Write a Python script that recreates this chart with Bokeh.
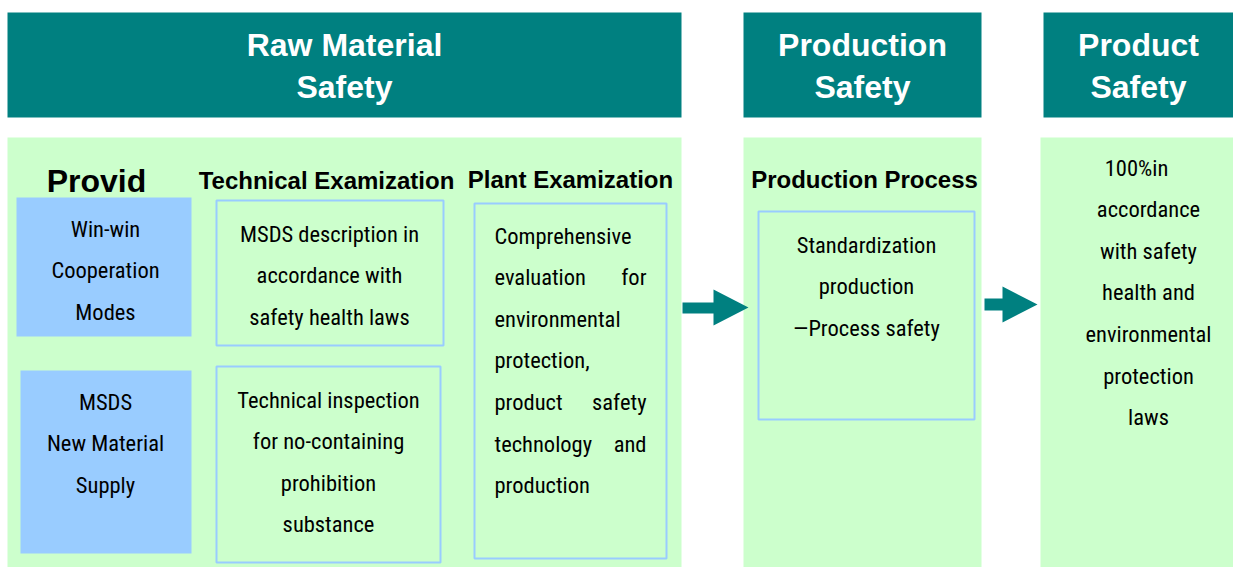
from bokeh.plotting import figure
from bokeh.models import Range1d, ColumnDataSource
from bokeh.core.properties import value
from bokeh.embed import file_html
from bokeh.resources import INLINE

# ---------------- content ----------------
stage_titles = [["Raw Material", "Safety"], ["Production", "Safety"], ["Product", "Safety"]]
provide_title = "Provid"
provide_items = [["Win-win", "Cooperation", "Modes"], ["MSDS", "New Material", "Supply"]]
tech_title = "Technical Examization"
tech_items = [["MSDS description in", "accordance with", "safety health laws"],
              ["Technical inspection", "for no-containing", "prohibition", "substance"]]
plant_title = "Plant Examization"
plant_lines = [["Comprehensive"], ["evaluation", "for"], ["environmental"], ["protection,"],
               ["product", "safety"], ["technology", "and"], ["production"]]
process_title = "Production Process"
process_lines = ["Standardization", "production", "\u2014Process safety"]
product_lines = ["100%in", "accordance", "with safety", "health and", "environmental", "protection", "laws"]

# ---------------- styles ----------------
TEAL = "#008080"
GREEN = "#CCFFCC"
BLUE = "#99CCFF"
BODY_FONT = "Roboto Condensed"
BOLD_FONT = "Liberation Sans"
BODY_SIZE = "22.5px"
LINE = 41.6

p = figure(width=1233, height=567, output_backend="svg", toolbar_location=None,
           x_range=Range1d(0, 1233), y_range=Range1d(567, 0),
           min_border=0, background_fill_color="white", border_fill_color="white")
p.axis.visible = False
p.grid.visible = False
p.outline_line_color = None

# header bars and panels (left, right)
cols = [(7, 681), (743, 981), (1043, 1240)]
panel_cols = [(7, 681), (743, 981), (1040, 1240)]
p.quad(left=[c[0] for c in cols], right=[c[1] for c in cols], top=[12] * 3, bottom=[117] * 3,
       fill_color=TEAL, line_color=None)
p.quad(left=[c[0] for c in panel_cols], right=[c[1] for c in panel_cols], top=[137] * 3, bottom=[570] * 3,
       fill_color=GREEN, line_color=None)

# filled blue boxes
p.quad(left=[16, 20], right=[191, 191], top=[197, 370], bottom=[336, 553], fill_color=BLUE, line_color=None)
# outlined boxes
p.quad(left=[216, 216, 474, 758], right=[443, 440, 666, 974], top=[200, 366, 203, 211],
       bottom=[345, 562, 558, 419], fill_color=None, line_color=BLUE, line_width=2)

# arrows
p.patch([682, 713, 713, 748, 713, 713, 682], [302, 302, 289, 307, 325, 313, 313],
        fill_color=TEAL, line_color=None)
p.patch([984, 1002, 1002, 1037, 1002, 1002, 984], [298, 298, 286, 304, 322, 310, 310],
        fill_color=TEAL, line_color=None)


def add_text(xs, ys, texts, font, size, color="black", style="normal", align="center"):
    src = ColumnDataSource(dict(x=xs, y=ys, t=texts))
    p.text(x="x", y="y", text="t", source=src, text_font=value(font), text_font_size=size,
           text_color=color, text_font_style=style, text_align=align, text_baseline="middle")


# header titles
hx, hy, ht = [], [], []
for (l, r), lines in zip([(7, 681), (743, 981), (1043, 1233)], stage_titles):
    for i, s in enumerate(lines):
        hx.append((l + r) / 2)
        hy.append(44 + i * 42)
        ht.append(s)
add_text(hx, hy, ht, BOLD_FONT, "32px", color="white", style="bold")

# section titles
add_text([96], [180], [provide_title], BOLD_FONT, "32px", style="bold")
add_text([326, 570, 864], [180, 179, 179], [tech_title, plant_title, process_title], BOLD_FONT, "24px",
         style="bold")

# centred body text
bx, by, bt = [], [], []
for cx, y0, lines in zip([105, 105], [228, 401], provide_items):
    for i, s in enumerate(lines):
        bx.append(cx); by.append(y0 + i * LINE); bt.append(s)
for cx, y0, lines in zip([329, 328], [233, 399], tech_items):
    for i, s in enumerate(lines):
        bx.append(cx); by.append(y0 + i * LINE); bt.append(s)
for i, s in enumerate(process_lines):
    bx.append(866); by.append(244 + i * LINE); bt.append(s)
for i, s in enumerate(product_lines):
    bx.append(1136 if i == 0 else 1148); by.append(167 + i * LINE); bt.append(s)
add_text(bx, by, bt, BODY_FONT, BODY_SIZE)

# plant lines (justified)
lx, ly, lt, rx, ry, rt = [], [], [], [], [], []
for i, words in enumerate(plant_lines):
    y = 235 + i * LINE
    lx.append(494); ly.append(y); lt.append(words[0])
    if len(words) > 1:
        rx.append(646); ry.append(y); rt.append(words[-1])
add_text(lx, ly, lt, BODY_FONT, BODY_SIZE, align="left")
add_text(rx, ry, rt, BODY_FONT, BODY_SIZE, align="right")

open("out.html", "w").write(file_html(p, INLINE))
